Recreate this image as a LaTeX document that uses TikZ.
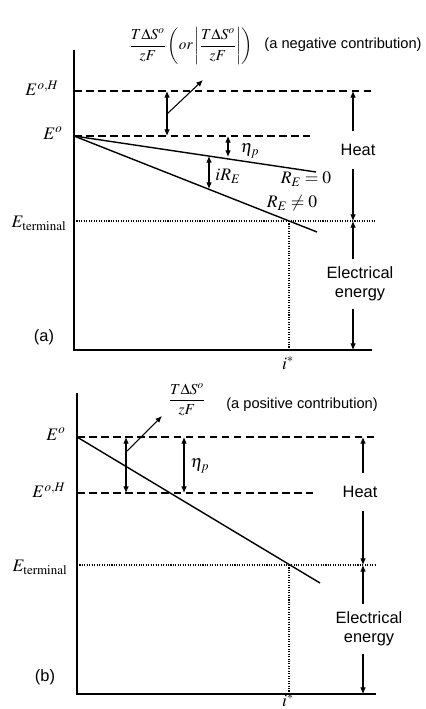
\documentclass[tikz,border=0pt]{standalone}
\usepackage{amsmath}
\usepackage{mathptmx}
\usepackage[no-math]{fontspec}
\setsansfont{Liberation Sans}
\usetikzlibrary{arrows.meta}
\tikzset{
    axisline/.style={line width=1.6pt},
    levelline/.style={line width=1.2pt, dash pattern=on 6.5pt off 3.8pt},
    dotline/.style={line width=1pt, dash pattern=on 0.9pt off 1.2pt},
    slopeline/.style={line width=1.2pt},
    gaparrow/.style={{Latex[length=2mm,width=1.7mm]}-{Latex[length=2mm,width=1.7mm]}, line width=0.9pt},
    ptrarrow/.style={-{Latex[length=2mm,width=1.7mm]}, line width=0.9pt},
    sidetext/.style={font=\sffamily\fontsize{14}{16.5}\selectfont, align=center, inner xsep=1pt},
    notetext/.style={font=\sffamily\fontsize{12.5}{15}\selectfont, inner sep=1pt},
    mathlabel/.style={font=\fontsize{15}{18}\selectfont, inner sep=1pt},
    formula/.style={font=\fontsize{13}{16}\selectfont, inner sep=0pt}
}
\begin{document}
\begin{tikzpicture}[x=0.03cm, y=-0.03cm]
    \useasboundingbox (0,0) rectangle (426,709);

    % ---- panel (a): negative contribution ----
    \coordinate (aTop) at (74,50);
    \coordinate (aCorner) at (74,350);
    \coordinate (aEnd) at (372,350);
    \coordinate (aEH) at (74,91);
    \coordinate (aEHEnd) at (375,91);
    \coordinate (aEo) at (74,136);
    \coordinate (aEoEnd) at (310,136);
    \coordinate (aEt) at (74,221);
    \coordinate (aEtEnd) at (375,221);
    \coordinate (aZero) at (316,172);
    \coordinate (aNonzero) at (317,232);
    \coordinate (aStar) at (289,221);
    \coordinate (aStarFoot) at (289,350);
    \coordinate (aTsTop) at (167,91);
    \coordinate (aTsBot) at (167,136);
    \coordinate (aTsMid) at (167,114);
    \coordinate (aTsTip) at (203,80);
    \coordinate (aEtaTop) at (228,136);
    \coordinate (aEtaBot) at (228,157);
    \coordinate (aIRTop) at (209,156);
    \coordinate (aIRBot) at (209,189);
    \coordinate (aHeatTop) at (353,91);
    \coordinate (aHeatBot) at (353,221);
    \coordinate (aElecBot) at (353,350);

    \draw[axisline] (aTop) -- (aCorner) -- (aEnd);
    \draw[levelline] (aEH) -- (aEHEnd);
    \draw[levelline] (aEo) -- (aEoEnd);
    \draw[dotline] (aEt) -- (aEtEnd);
    \draw[dotline] (aStar) -- (aStarFoot);
    \draw[slopeline] (aEo) -- (aZero);
    \draw[slopeline] (aEo) -- (aNonzero);
    \draw[gaparrow] (aTsTop) -- (aTsBot);
    \draw[ptrarrow] (aTsMid) -- (aTsTip);
    \draw[gaparrow] (aEtaTop) -- (aEtaBot);
    \draw[gaparrow] (aIRTop) -- (aIRBot);

    \node[mathlabel] (aLabelEH) at (42,88) {$E^{o,H}$};
    \node[mathlabel] (aLabelEo) at (53,133) {$E^{o}$};
    \node[mathlabel] (aLabelEt) at (39,223) {$E_{\mathrm{terminal}}$};
    \node[mathlabel] (aLabelEta) at (250,151) {$\eta_p$};
    \node[mathlabel] (aLabelIR) at (228,176) {$iR_E$};
    \node[mathlabel] (aLabelZero) at (306,179) {$R_E=0$};
    \node[mathlabel] (aLabelNonzero) at (292,203) {$R_E\neq 0$};
    \node[mathlabel] (aLabelStar) at (288,363) {$i^{*}$};
    \node[formula] (aFormula) at (191,46)
        {$\dfrac{T\Delta S^o}{zF}\left(or\left|\dfrac{T\Delta S^o}{zF}\right|\right)$};
    \node[notetext] (aNote) at (343,45) {(a negative contribution)};
    \node[sidetext] (aPanel) at (44,337) {(a)};

    \node[sidetext, inner ysep=11pt] (aHeat) at (358,150) {Heat};
    \node[sidetext, inner ysep=6pt] (aElec) at (360,284) {Electrical\\energy};
    \draw[ptrarrow] (aHeatTop |- aHeat.north) -- (aHeatTop);
    \draw[ptrarrow] (aHeatBot |- aHeat.south) -- (aHeatBot);
    \draw[ptrarrow] (aHeatBot |- aElec.north) -- (aHeatBot);
    \draw[ptrarrow] (aElecBot |- aElec.south) -- (aElecBot);

    % ---- panel (b): positive contribution ----
    \coordinate (bTop) at (77,393);
    \coordinate (bCorner) at (77,694);
    \coordinate (bEnd) at (376,694);
    \coordinate (bEo) at (77,437);
    \coordinate (bEoEnd) at (377,437);
    \coordinate (bEH) at (77,493);
    \coordinate (bEHEnd) at (313,493);
    \coordinate (bEt) at (77,565);
    \coordinate (bEtEnd) at (377,565);
    \coordinate (bSlopeEnd) at (320,583);
    \coordinate (bStar) at (289,565);
    \coordinate (bStarFoot) at (289,694);
    \coordinate (bTsTop) at (126,437);
    \coordinate (bTsBot) at (126,493);
    \coordinate (bTsStart) at (127,451);
    \coordinate (bTsTip) at (162,416);
    \coordinate (bEtaTop) at (184,437);
    \coordinate (bEtaBot) at (184,493);
    \coordinate (bHeatTop) at (363,437);
    \coordinate (bHeatBot) at (363,565);
    \coordinate (bElecBot) at (363,694);

    \draw[axisline] (bTop) -- (bCorner) -- (bEnd);
    \draw[levelline] (bEo) -- (bEoEnd);
    \draw[levelline] (bEH) -- (bEHEnd);
    \draw[dotline] (bEt) -- (bEtEnd);
    \draw[dotline] (bStar) -- (bStarFoot);
    \draw[slopeline] (bEo) -- (bSlopeEnd);
    \draw[gaparrow] (bTsTop) -- (bTsBot);
    \draw[ptrarrow] (bTsStart) -- (bTsTip);
    \draw[gaparrow] (bEtaTop) -- (bEtaBot);

    \node[mathlabel] (bLabelEo) at (56,434) {$E^{o}$};
    \node[mathlabel] (bLabelEH) at (49,490) {$E^{o,H}$};
    \node[mathlabel] (bLabelEt) at (40,567) {$E_{\mathrm{terminal}}$};
    \node[mathlabel] (bLabelEta) at (200,466) {$\eta_p$};
    \node[mathlabel] (bLabelStar) at (288,700) {$i^{*}$};
    \node[formula] (bFormula) at (187,400) {$\dfrac{T\Delta S^o}{zF}$};
    \node[notetext] (bNote) at (302,405) {(a positive contribution)};
    \node[sidetext] (bPanel) at (45,677) {(b)};

    \node[sidetext, inner ysep=11pt] (bHeat) at (360,492) {Heat};
    \node[sidetext, inner ysep=6pt] (bElec) at (369,629) {Electrical\\energy};
    \draw[ptrarrow] (bHeatTop |- bHeat.north) -- (bHeatTop);
    \draw[ptrarrow] (bHeatBot |- bHeat.south) -- (bHeatBot);
    \draw[ptrarrow] (bHeatBot |- bElec.north) -- (bHeatBot);
    \draw[ptrarrow] (bElecBot |- bElec.south) -- (bElecBot);
\end{tikzpicture}
\end{document}
